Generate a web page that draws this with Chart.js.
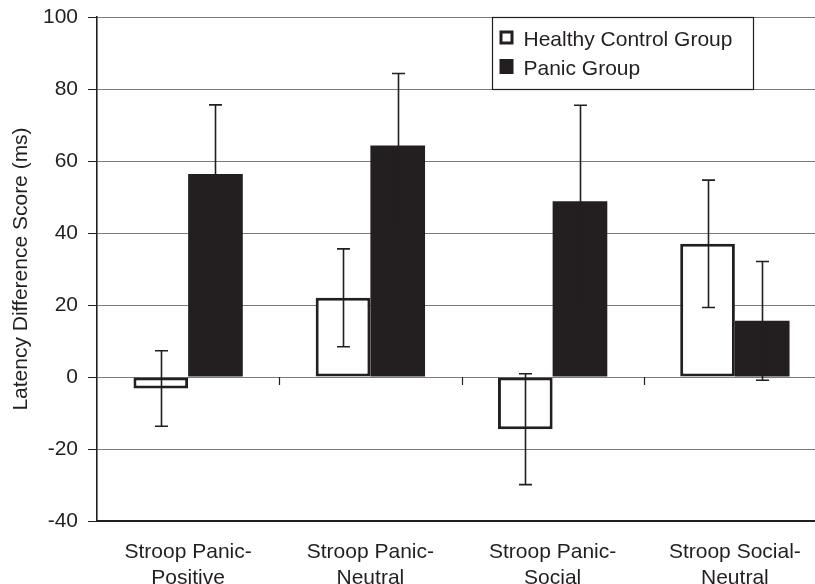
<!DOCTYPE html>
<html>
<head>
<meta charset="utf-8">
<script src="https://cdn.jsdelivr.net/npm/chart.js@4"></script>
<style>
html,body{margin:0;padding:0;background:#fff;overflow:hidden;}
#wrap{width:830px;height:584px;}
</style>
</head>
<body>
<div id="wrap"><canvas id="c" width="830" height="584"></canvas></div>
<script>
const categories = [
  ["Stroop Panic-", "Positive"],
  ["Stroop Panic-", "Neutral"],
  ["Stroop Panic-", "Social"],
  ["Stroop Social-", "Neutral"]
];
const seriesNames = ["Healthy Control Group", "Panic Group"];
const healthyValues = [-3.2, 22, -14.5, 37];
const healthyErrors = [10.5, 13.6, 15.4, 17.7];
const panicValues = [56.4, 64.3, 48.8, 15.6];
const panicErrors = [19.2, 20, 26.7, 16.5];
const yTicks = [100, 80, 60, 40, 20, 0, -20, -40];

const INK = '#231f20';
const GRID = '#7a7a7a';
const FONT = '"Liberation Sans", Arial, sans-serif';

const errorBars = {
  id: 'errorBars',
  afterDatasetsDraw(chart) {
    const ctx = chart.ctx;
    const y = chart.scales.y;
    ctx.save();
    ctx.strokeStyle = INK;
    ctx.lineWidth = 1.6;
    chart.data.datasets.forEach((ds, di) => {
      const meta = chart.getDatasetMeta(di);
      meta.data.forEach((bar, i) => {
        const v = ds.data[i], e = ds.errors[i];
        const x = Math.round(bar.x) + 0.5;
        const yt = y.getPixelForValue(v + e);
        const yb = y.getPixelForValue(v - e);
        ctx.beginPath();
        ctx.moveTo(x, yt); ctx.lineTo(x, yb);
        ctx.moveTo(x - 6.5, yt); ctx.lineTo(x + 6.5, yt);
        ctx.moveTo(x - 6.5, yb); ctx.lineTo(x + 6.5, yb);
        ctx.stroke();
      });
    });
    ctx.restore();
  }
};

const zeroAxis = {
  id: 'zeroAxis',
  afterDatasetsDraw(chart) {
    const ctx = chart.ctx;
    const x = chart.scales.x, y = chart.scales.y;
    const y0 = y.getPixelForValue(0);
    ctx.save();
    ctx.strokeStyle = INK;
    ctx.lineWidth = 1.2;
    for (let i = 1; i < categories.length; i++) {
      const px = Math.round((x.getPixelForTick(i - 1) + x.getPixelForTick(i)) / 2) + 0.5;
      ctx.beginPath();
      ctx.moveTo(px, y0);
      ctx.lineTo(px, y0 + 8);
      ctx.stroke();
    }
    ctx.restore();
  }
};

const boxLegend = {
  id: 'boxLegend',
  afterDraw(chart) {
    const ctx = chart.ctx;
    const y = chart.scales.y;
    const area = chart.chartArea;
    const top = Math.round(y.getPixelForValue(100)) + 0.5;
    const bot = Math.round(y.getPixelForValue(80)) + 0.5;
    const left = Math.round(area.left) + 395.5;
    const right = Math.round(area.left) + 656.5;
    ctx.save();
    ctx.fillStyle = '#fff';
    ctx.fillRect(left, top, right - left, bot - top);
    ctx.strokeStyle = INK;
    ctx.lineWidth = 1.2;
    ctx.strokeRect(left, top, right - left, bot - top);
    ctx.font = '21px ' + FONT;
    ctx.textBaseline = 'alphabetic';
    ctx.fillStyle = INK;
    const baselines = [top + 28, top + 57];
    chart.data.datasets.forEach((ds, di) => {
      const bl = baselines[di];
      if (di === 0) {
        ctx.lineWidth = 3;
        ctx.strokeStyle = INK;
        ctx.strokeRect(left + 8.5, bl - 13.5, 11, 11);
      } else {
        ctx.fillRect(left + 7, bl - 15.5, 14, 15);
      }
      ctx.fillText(ds.label, left + 31, bl);
    });
    ctx.restore();
  }
};

new Chart(document.getElementById('c'), {
  type: 'bar',
  data: {
    labels: categories,
    datasets: [
      {
        label: seriesNames[0],
        data: healthyValues,
        errors: healthyErrors,
        backgroundColor: '#ffffff',
        borderColor: INK,
        borderWidth: 3,
        borderSkipped: false
      },
      {
        label: seriesNames[1],
        data: panicValues,
        errors: panicErrors,
        backgroundColor: INK,
        borderColor: INK,
        borderWidth: 0,
        borderSkipped: false
      }
    ]
  },
  options: {
    responsive: false,
    animation: false,
    devicePixelRatio: 1,
    layout: { padding: { top: 17, right: 4, left: 0, bottom: 0 } },
    categoryPercentage: 0.6,
    barPercentage: 1.0,
    plugins: {
      legend: { display: false },
      tooltip: { enabled: false }
    },
    scales: {
      x: {
        grid: { display: false, drawTicks: false },
        border: { display: true, color: INK, width: 2 },
        ticks: {
          color: INK,
          font: { family: FONT, size: 21, lineHeight: 1.2 },
          padding: 19,
          maxRotation: 0,
          autoSkip: false
        },
        afterFit(s) { s.height = 63; }
      },
      y: {
        min: -40,
        max: 100,
        afterBuildTicks(s) { s.ticks = yTicks.map(v => ({ value: v })); },
        grid: {
          color: GRID,
          lineWidth: 1,
          tickLength: 9,
          tickColor: INK
        },
        border: { display: true, color: INK, width: 1.6 },
        ticks: {
          color: INK,
          font: { family: FONT, size: 21 },
          padding: 10
        },
        title: {
          display: true,
          text: 'Latency Difference Score (ms)',
          color: INK,
          font: { family: FONT, size: 21, lineHeight: 1.2 },
          padding: { top: 9, bottom: 0 }
        },
        afterFit(s) { s.width = 97; s.paddingTop = 0; s.paddingBottom = 0; }
      }
    }
  },
  plugins: [errorBars, zeroAxis, boxLegend]
});
</script>
</body>
</html>
